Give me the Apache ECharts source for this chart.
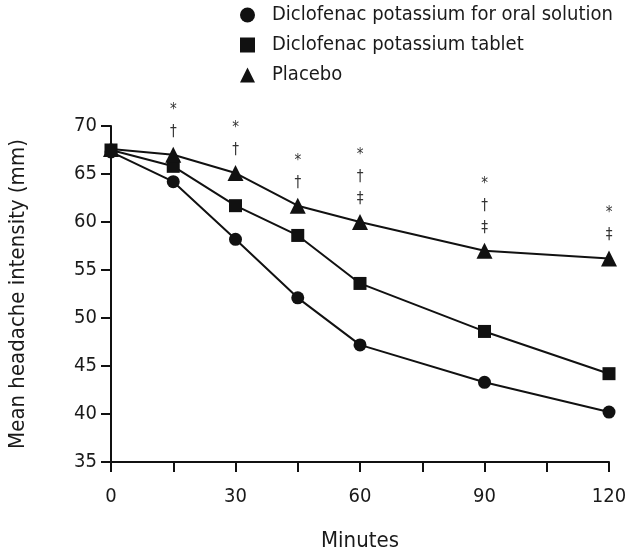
<!DOCTYPE html>
<html>
<head>
<meta charset="utf-8">
<script src="https://cdn.jsdelivr.net/npm/echarts@6/dist/echarts.min.js"></script>
<style>html,body{margin:0;padding:0;background:#fff}#c{width:629px;height:555px}</style>
</head>
<body>
<div id="c"></div>
<script>
var minutes = [0, 15, 30, 45, 60, 90, 120];
var oralSolution = [67.3, 64.2, 58.2, 52.1, 47.2, 43.3, 40.2];
var tablet = [67.5, 65.8, 61.7, 58.6, 53.6, 48.6, 44.2];
var placebo = [67.6, 67.0, 65.1, 61.7, 60.0, 57.0, 56.2];
var significance = ['', '*\n†', '*\n†', '*\n†', '*\n†\n‡', '*\n†\n‡', '*\n‡'];
var seriesNames = ['Diclofenac potassium for oral solution', 'Diclofenac potassium tablet', 'Placebo'];
var xTicks = [0, 30, 60, 90, 120];
var yTicks = [35, 40, 45, 50, 55, 60, 65, 70];

var FONT = '"Liberation Sans Narrow", "DejaVu Sans Condensed", "Roboto", sans-serif';
var TXT = '#1a1a1a';

function pairs(vals) { return minutes.map(function (m, i) { return [m, vals[i]]; }); }

var chart = echarts.init(document.getElementById('c'), null, { renderer: 'canvas' });
var common = {
  type: 'line',
  lineStyle: { color: '#111', width: 2 },
  itemStyle: { color: '#111' },
  emphasis: { disabled: true },
  animation: false
};
chart.setOption({
  animation: false,
  textStyle: { fontFamily: FONT, color: TXT },
  grid: { left: 111, right: 20, top: 126, bottom: 93, containLabel: false, outerBoundsMode: 'none' },
  legend: {
    orient: 'vertical',
    left: 235,
    top: 0,
    itemWidth: 15,
    itemHeight: 15,
    itemGap: 10,
    textStyle: { fontFamily: FONT, fontSize: 20, color: TXT, lineHeight: 20, padding: [0, 0, 0, 12] },
    data: [
      { name: seriesNames[0], icon: 'circle' },
      { name: seriesNames[1], icon: 'rect' },
      { name: seriesNames[2], icon: 'triangle' }
    ]
  },
  xAxis: {
    type: 'value',
    min: 0, max: 120, interval: 15,
    name: 'Minutes',
    nameLocation: 'middle',
    nameGap: 68,
    nameTextStyle: { fontFamily: FONT, fontSize: 22, color: TXT },
    axisLine: { onZero: false, lineStyle: { color: '#111', width: 2 } },
    axisTick: { show: true, length: 10, lineStyle: { color: '#111', width: 2 } },
    axisLabel: {
      margin: 25, fontFamily: FONT, fontSize: 20, color: TXT,
      formatter: function (v) { return xTicks.indexOf(v) >= 0 ? String(v) : ''; }
    },
    splitLine: { show: false }
  },
  yAxis: {
    type: 'value',
    min: 35, max: 70, interval: 5,
    name: 'Mean headache intensity (mm)',
    nameLocation: 'middle',
    nameGap: 82,
    nameRotate: 90,
    nameTextStyle: { fontFamily: FONT, fontSize: 22, color: TXT },
    axisLine: { show: true, lineStyle: { color: '#111', width: 2 } },
    axisTick: { show: true, length: 10, lineStyle: { color: '#111', width: 2 } },
    axisLabel: {
      margin: 14, fontFamily: FONT, fontSize: 20, color: TXT,
      formatter: function (v) { return yTicks.indexOf(v) >= 0 ? String(v) : ''; }
    },
    splitLine: { show: false }
  },
  series: [
    Object.assign({}, common, {
      name: seriesNames[0], symbol: 'circle', symbolSize: 13, z: 3,
      data: pairs(oralSolution)
    }),
    Object.assign({}, common, {
      name: seriesNames[1], symbol: 'rect', symbolSize: 13, z: 4,
      data: pairs(tablet)
    }),
    Object.assign({}, common, {
      name: seriesNames[2], symbol: 'triangle', symbolSize: 16, z: 5,
      data: pairs(placebo),
      label: {
        show: true, position: 'top', distance: 4,
        fontFamily: FONT, fontSize: 15, color: '#333', lineHeight: 22, align: 'center',
        formatter: function (p) { return significance[p.dataIndex]; }
      }
    })
  ]
});
</script>
</body>
</html>
